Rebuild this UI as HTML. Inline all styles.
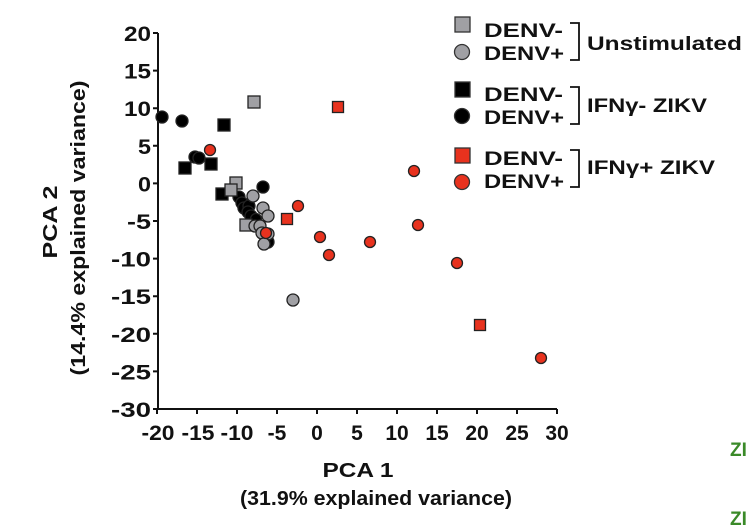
<!DOCTYPE html>
<html><head><meta charset="utf-8"><style>
body{margin:0;background:#fff;width:750px;height:526px;overflow:hidden}
svg text{font-family:"Liberation Sans",Arial,sans-serif;font-weight:bold;fill:#111}
</style></head><body>
<svg width="750" height="526" viewBox="0 0 750 526" xmlns="http://www.w3.org/2000/svg">
<g stroke="#111" stroke-width="2" fill="none">
<line x1="158" y1="33" x2="158" y2="410"/>
<line x1="157" y1="409" x2="557" y2="409"/>
<path d="M153 33H158M153 70.6H158M153 108.2H158M153 145.8H158M153 183.4H158M153 221H158M153 258.6H158M153 296.2H158M153 333.8H158M153 371.4H158M153 409H158"/>
<path d="M157 409V414M197 409V414M237 409V414M277 409V414M317 409V414M357 409V414M397 409V414M437 409V414M477 409V414M517 409V414M557 409V414"/>
</g>
<g font-size="21" text-anchor="end">
<text x="151" y="41" textLength="27" lengthAdjust="spacingAndGlyphs">20</text>
<text x="151" y="78.6" textLength="27" lengthAdjust="spacingAndGlyphs">15</text>
<text x="151" y="116.2" textLength="27" lengthAdjust="spacingAndGlyphs">10</text>
<text x="151" y="153.8" textLength="13" lengthAdjust="spacingAndGlyphs">5</text>
<text x="151" y="191.4" textLength="13" lengthAdjust="spacingAndGlyphs">0</text>
<text x="151" y="229" textLength="24" lengthAdjust="spacingAndGlyphs">-5</text>
<text x="151" y="266.6" textLength="40" lengthAdjust="spacingAndGlyphs">-10</text>
<text x="151" y="304.2" textLength="40" lengthAdjust="spacingAndGlyphs">-15</text>
<text x="151" y="341.8" textLength="40" lengthAdjust="spacingAndGlyphs">-20</text>
<text x="151" y="379.4" textLength="40" lengthAdjust="spacingAndGlyphs">-25</text>
<text x="151" y="417" textLength="40" lengthAdjust="spacingAndGlyphs">-30</text>
</g>
<g font-size="21" text-anchor="middle">
<text x="158" y="440" textLength="33" lengthAdjust="spacingAndGlyphs">-20</text>
<text x="198" y="440" textLength="33" lengthAdjust="spacingAndGlyphs">-15</text>
<text x="237" y="440" textLength="33" lengthAdjust="spacingAndGlyphs">-10</text>
<text x="277" y="440">-5</text><text x="317" y="440">0</text><text x="357" y="440">5</text><text x="397" y="440">10</text><text x="437" y="440">15</text><text x="477" y="440">20</text><text x="517" y="440">25</text><text x="557" y="440">30</text>
</g>
<g font-size="20" text-anchor="middle">
<text x="358" y="477" textLength="71" lengthAdjust="spacingAndGlyphs">PCA 1</text>
<text x="376" y="505" textLength="272" lengthAdjust="spacingAndGlyphs">(31.9% explained variance)</text>
<text transform="translate(57,222) rotate(-90)" textLength="73" lengthAdjust="spacingAndGlyphs">PCA 2</text>
<text transform="translate(85,228) rotate(-90)" textLength="295" lengthAdjust="spacingAndGlyphs">(14.4% explained variance)</text>
</g>
<g stroke="#222" stroke-width="1.3">
<g fill="#000">
<circle cx="162" cy="117" r="6"/><circle cx="182" cy="121" r="6"/>
<circle cx="195" cy="157" r="6"/><circle cx="199" cy="158" r="6"/>
<circle cx="263" cy="187" r="6"/>
<circle cx="239" cy="197" r="6"/><circle cx="242" cy="203" r="6"/><circle cx="244" cy="208" r="6"/><circle cx="249" cy="206" r="6"/><circle cx="248" cy="212" r="6"/><circle cx="251" cy="216" r="6"/><circle cx="256" cy="219" r="5.5"/>
<circle cx="268" cy="242" r="6"/>
<rect x="218" y="119" width="12" height="12"/><rect x="179" y="162" width="12" height="12"/><rect x="205" y="158" width="12" height="12"/><rect x="216" y="188" width="12" height="12"/>
</g>
<g fill="#a0a0a4">
<rect x="248" y="96" width="12" height="12"/><rect x="230" y="177" width="12" height="12"/><rect x="225" y="184" width="12" height="12"/><rect x="240" y="219" width="12" height="12"/>
<circle cx="253" cy="196" r="6"/><circle cx="263" cy="208" r="6"/><circle cx="268" cy="216" r="6"/>
<circle cx="255" cy="226" r="6"/><circle cx="260" cy="226" r="6"/><circle cx="262" cy="233" r="6"/><circle cx="268" cy="234" r="6"/><circle cx="264" cy="244" r="6"/>
<circle cx="293" cy="300" r="6"/>
</g>
<g fill="#e8321e">
<circle cx="210" cy="150" r="5.5"/><circle cx="298" cy="206" r="5.5"/><circle cx="266" cy="233" r="5.5"/>
<circle cx="414" cy="171" r="5.5"/><circle cx="418" cy="225" r="5.5"/><circle cx="370" cy="242" r="5.5"/><circle cx="320" cy="237" r="5.5"/><circle cx="329" cy="255" r="5.5"/><circle cx="457" cy="263" r="5.5"/><circle cx="541" cy="358" r="5.5"/>
<rect x="281.5" y="213.5" width="11" height="11"/><rect x="332.5" y="101.5" width="11" height="11"/><rect x="474.5" y="319.5" width="11" height="11"/>
</g>
</g>
<g stroke="#333" stroke-width="1.3">
<rect x="455" y="17" width="15" height="15" fill="#a0a0a4"/><circle cx="462" cy="52" r="7.5" fill="#a0a0a4"/>
<rect x="455" y="82" width="15" height="15" fill="#000"/><circle cx="462" cy="116" r="7.5" fill="#000"/>
<rect x="455" y="148" width="15" height="15" fill="#e8321e"/><circle cx="462" cy="182" r="7.5" fill="#e8321e"/>
</g>
<g stroke="#111" stroke-width="1.8" fill="none">
<path d="M570 23H579V60H570"/><path d="M570 87H579V124H570"/><path d="M570 150H579V187H570"/>
</g>
<g font-size="19">
<text x="484" y="37" textLength="79" lengthAdjust="spacingAndGlyphs">DENV-</text><text x="484" y="60" textLength="80" lengthAdjust="spacingAndGlyphs">DENV+</text>
<text x="484" y="101" textLength="79" lengthAdjust="spacingAndGlyphs">DENV-</text><text x="484" y="124" textLength="80" lengthAdjust="spacingAndGlyphs">DENV+</text>
<text x="484" y="165" textLength="79" lengthAdjust="spacingAndGlyphs">DENV-</text><text x="484" y="188" textLength="80" lengthAdjust="spacingAndGlyphs">DENV+</text>
<text x="587" y="50" textLength="155" lengthAdjust="spacingAndGlyphs">Unstimulated</text>
<text x="587" y="112" textLength="120" lengthAdjust="spacingAndGlyphs">IFNγ- ZIKV</text>
<text x="587" y="174" textLength="128" lengthAdjust="spacingAndGlyphs">IFNγ+ ZIKV</text>
</g>
<g font-size="19">
<text x="730" y="456" style="fill:#3a8a28">ZI</text>
<text x="730" y="525" style="fill:#3a8a28">ZI</text>
</g>
</svg>
</body></html>
